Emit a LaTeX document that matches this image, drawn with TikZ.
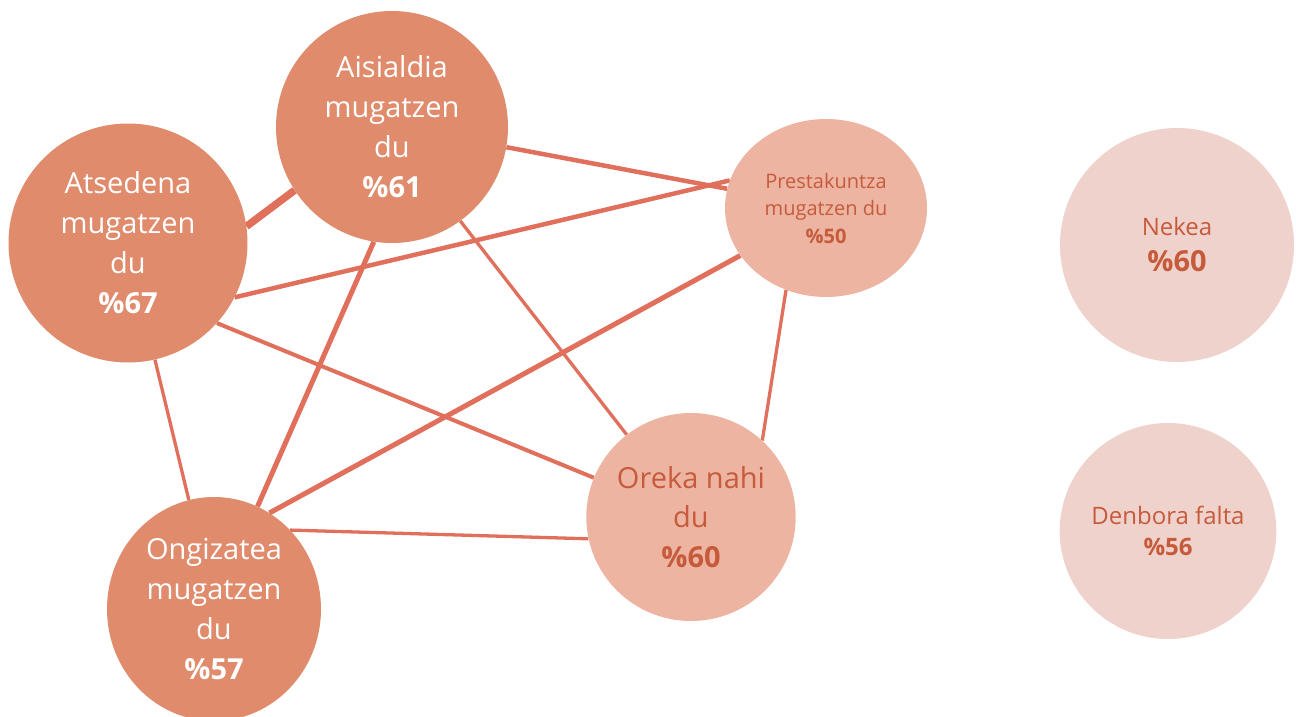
\documentclass[tikz,border=0pt]{standalone}
\usepackage{fontspec}
\setmainfont{Open Sans}
\usetikzlibrary{shapes.geometric,backgrounds}
\definecolor{darkfill}{RGB}{223,139,108}
\definecolor{midfill}{RGB}{237,180,162}
\definecolor{lightfill}{RGB}{240,210,204}
\definecolor{linecol}{RGB}{224,111,91}
\definecolor{txtcol}{RGB}{198,91,59}
\tikzset{
  bubble/.style={ellipse, inner sep=0pt, align=center},
  bigbubble/.style={bubble, fill=darkfill, text=white, font=\fontsize{29}{40}\selectfont},
  link/.style={draw=linecol, line width=#1},
}
\begin{document}
\begin{tikzpicture}[x=1pt,y=-1pt]
\useasboundingbox (0,0) rectangle (1296,717);
\node[bigbubble, minimum width=232, minimum height=232] (ais) at (392,127) {Aisialdia\\mugatzen\\du\\\textbf{\%61}};
\node[bigbubble, minimum width=239, minimum height=239] (ats) at (128,243) {Atsedena\\mugatzen\\du\\\textbf{\%67}};
\node[bigbubble, minimum width=214, minimum height=224] (ong) at (214,609) {Ongizatea\\mugatzen\\du\\\textbf{\%57}};
\node[bubble, fill=midfill, text=txtcol, minimum width=202, minimum height=178, font=\fontsize{20}{27.5}\selectfont] (pre) at (826,208) {Prestakuntza\\mugatzen du\\\textbf{\%50}};
\node[bubble, fill=midfill, text=txtcol, minimum width=208, minimum height=208, font=\fontsize{29}{39.5}\selectfont] (ore) at (691,517) {Oreka nahi\\du\\\textbf{\%60}};
\node[bubble, fill=lightfill, text=txtcol, minimum width=234, minimum height=234, font=\fontsize{24}{36}\selectfont] (nek) at (1177,245) {Nekea\\\fontsize{29}{36}\selectfont\textbf{\%60}};
\node[bubble, fill=lightfill, text=txtcol, minimum width=216, minimum height=216, font=\fontsize{24}{31}\selectfont] (den) at (1168,531) {Denbora falta\\\textbf{\%56}};
\begin{scope}[on background layer]
\draw[link=7.5pt] (ats.8.7) -- (ais.-147.3);
\draw[link=4.5pt] (ats.-27.9) -- (pre.164.2);
\draw[link=4.5pt] (ais.-10.3) -- (pre.169.7);
\draw[link=4pt] (ats.-42.6) -- (ore.158.5);
\draw[link=3.3pt] (ats.-77) -- (ong.103.4);
\draw[link=5pt] (ais.-99.5) -- (ong.67);
\draw[link=3.3pt] (ais.-54.8) -- (ore.128.2);
\draw[link=5pt] (pre.-151.3) -- (ong.60.9);
\draw[link=3.3pt] (pre.-116.3) -- (ore.47);
\draw[link=3.3pt] (ong.46.8) -- (ore.-168.5);
\end{scope}
\end{tikzpicture}
\end{document}
